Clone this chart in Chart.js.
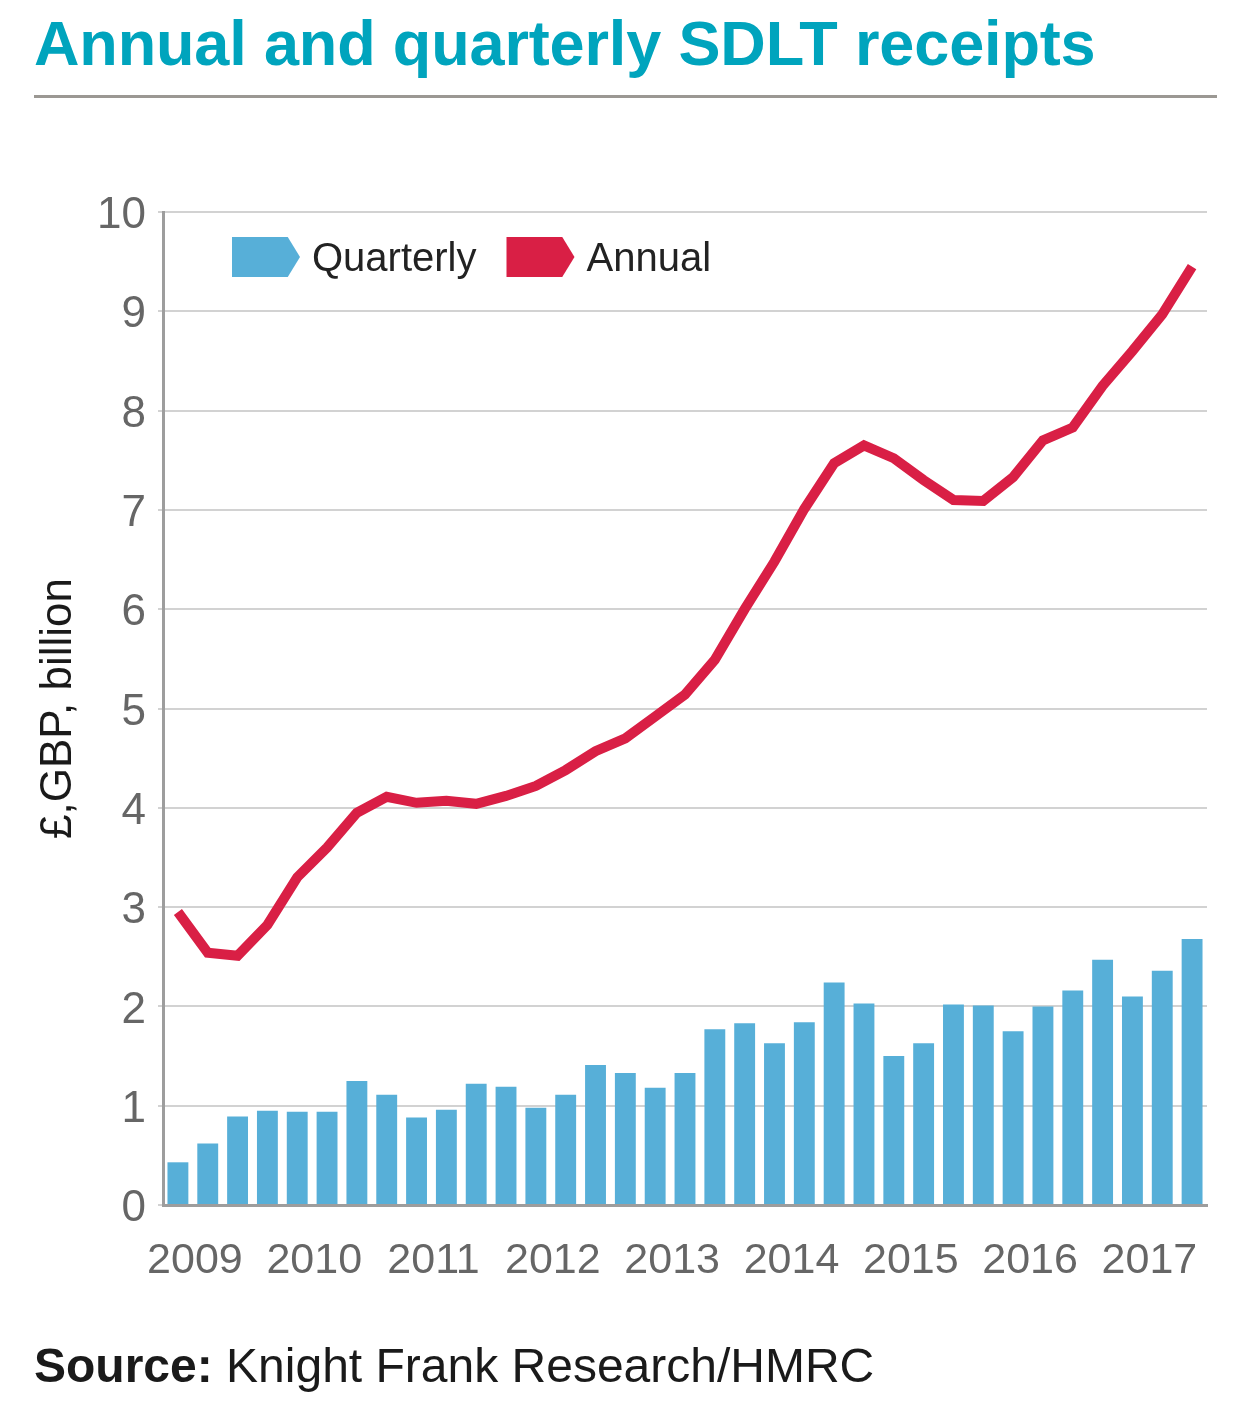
<!doctype html>
<html lang="en">
<head>
<meta charset="utf-8">
<title>Annual and quarterly SDLT receipts</title>
<script src="https://cdn.jsdelivr.net/npm/chart.js@4.4.0/dist/chart.umd.min.js"></script>
<style>
  html, body { margin: 0; padding: 0; background: #fff; }
  #page { position: relative; width: 1246px; height: 1422px; font-family: "Liberation Sans", Arial, sans-serif; }
  #chartBox { position: absolute; left: 0; top: 0; width: 1246px; height: 1422px; }
  #title { position: absolute; left: 34px; top: 12px; margin: 0; font-size: 63px; line-height: 1; font-weight: bold; color: #00a4bd; white-space: nowrap; letter-spacing: -0.15px; }
  #rule { position: absolute; left: 34px; top: 95px; width: 1183px; height: 3px; background: #9b9893; }
  #source { position: absolute; left: 34px; top: 1342px; font-size: 48px; line-height: 1; color: #1a1a1a; white-space: nowrap; }
</style>
</head>
<body>
<div id="page">
  <div id="chartBox"><canvas id="myChart"></canvas></div>
  <h1 id="title">Annual and quarterly SDLT receipts</h1>
  <div id="rule"></div>
  <div id="source"><b>Source:</b> Knight Frank Research/HMRC</div>
</div>

<script>
const years = ['2009', '2010', '2011', '2012', '2013', '2014', '2015', '2016', '2017'];

// Q1 2009 .. Q3 2017
const quarters = [];
years.forEach(y => ['Q1', 'Q2', 'Q3', 'Q4'].forEach(q => quarters.push(q + ' ' + y)));
quarters.length = 35;

const quarterly = [0.43, 0.62, 0.89, 0.95, 0.94, 0.94, 1.25, 1.11, 0.88, 0.96,
                   1.22, 1.19, 0.98, 1.11, 1.41, 1.33, 1.18, 1.33, 1.77, 1.83,
                   1.63, 1.84, 2.24, 2.03, 1.50, 1.63, 2.02, 2.01, 1.75, 2.00,
                   2.16, 2.47, 2.10, 2.36, 2.68];

const annual = [2.95, 2.54, 2.51, 2.82, 3.30, 3.60, 3.95, 4.11, 4.05, 4.07,
                4.04, 4.12, 4.22, 4.38, 4.57, 4.70, 4.92, 5.14, 5.49, 6.00,
                6.48, 7.01, 7.47, 7.65, 7.52, 7.30, 7.10, 7.09, 7.33, 7.70,
                7.83, 8.25, 8.60, 8.97, 9.45];

const BLUE = '#57afd8';
const RED = '#d91f45';
const FONT = '"Liberation Sans", Arial, sans-serif';

// legend drawn inside the plot area, arrow shaped keys
const insideLegend = {
  id: 'insideLegend',
  afterDatasetsDraw(chart) {
    const ctx = chart.ctx;
    const area = chart.chartArea;
    const w = 68, h = 40;
    let x = area.left + 69;
    const y = area.top + 25;
    ctx.save();
    ctx.font = '40px ' + FONT;
    ctx.textBaseline = 'middle';
    chart.data.datasets.forEach(ds => {
      ctx.fillStyle = ds.type === 'line' ? ds.borderColor : ds.backgroundColor;
      ctx.beginPath();
      ctx.moveTo(x, y);
      ctx.lineTo(x + w * 0.82, y);
      ctx.lineTo(x + w, y + h / 2);
      ctx.lineTo(x + w * 0.82, y + h);
      ctx.lineTo(x, y + h);
      ctx.closePath();
      ctx.fill();
      ctx.fillStyle = '#222';
      ctx.fillText(ds.label, x + w + 12, y + h / 2 + 3);
      x += w + 12 + ctx.measureText(ds.label).width + 30;
    });
    ctx.restore();
  }
};

const config = {
  data: {
    labels: quarters,
    datasets: [{
      type: 'bar',
      label: 'Quarterly',
      data: quarterly,
      backgroundColor: BLUE,
      barPercentage: 0.7,
      categoryPercentage: 1,
      order: 1
    }, {
      type: 'line',
      label: 'Annual',
      data: annual,
      borderColor: RED,
      backgroundColor: RED,
      borderWidth: 10,
      pointRadius: 0,
      tension: 0,
      borderCapStyle: 'butt',
      borderJoinStyle: 'miter',
      order: 0
    }]
  },
  options: {
    responsive: true,
    maintainAspectRatio: false,
    animation: false,
    layout: { padding: { top: 212, right: 39, bottom: 0, left: 0 } },
    plugins: {
      legend: { display: false },
      tooltip: { enabled: false }
    },
    scales: {
      x: {
        type: 'category',
        offset: true,
        grid: { display: false, drawTicks: false },
        border: { display: true, color: '#9d9d9d', width: 3 },
        ticks: {
          autoSkip: false,
          maxRotation: 0,
          labelOffset: 17,
          padding: 30,
          color: '#666',
          font: { family: FONT, size: 43 },
          callback: function (value, index) {
            const q = quarters[index];
            return q.startsWith('Q1') ? q.slice(3) : '';
          }
        },
        afterFit: scale => { scale.height = 217; }
      },
      y: {
        min: 0,
        max: 10,
        grid: { color: '#d2d2d2', lineWidth: 2, tickLength: 5 },
        border: { display: true, color: '#9d9d9d', width: 3 },
        ticks: {
          stepSize: 1,
          padding: 12,
          labelOffset: 4,
          color: '#666',
          font: { family: FONT, size: 44 }
        },
        title: {
          display: true,
          text: '£,GBP, billion',
          color: '#1a1a1a',
          font: { family: FONT, size: 44 },
          padding: { top: 32, bottom: 0 }
        },
        afterFit: scale => { scale.width = 163; }
      }
    }
  },
  plugins: [insideLegend]
};

const myChart = new Chart(document.getElementById('myChart'), config);
</script>
</body>
</html>
